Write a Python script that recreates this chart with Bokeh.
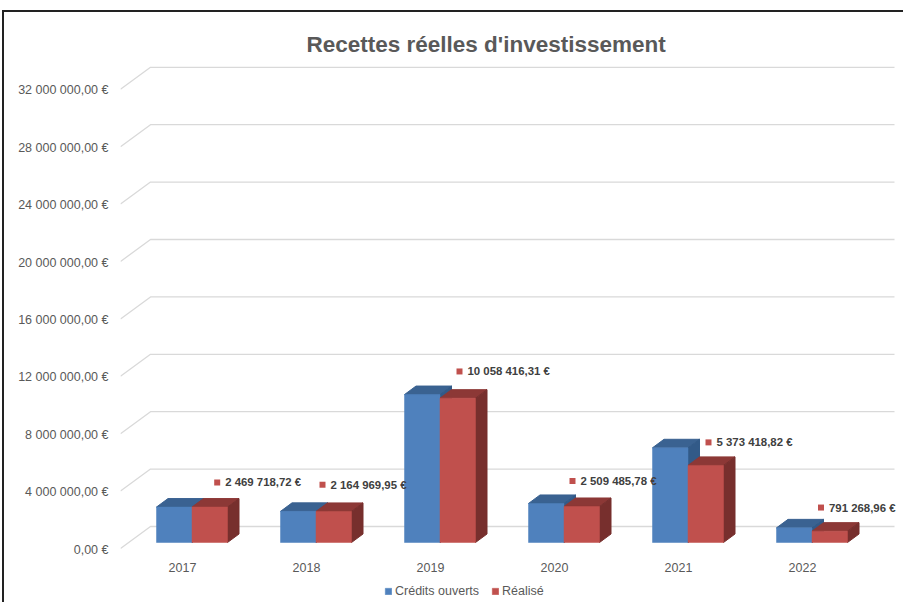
from bokeh.plotting import figure
from bokeh.embed import file_html
from bokeh.resources import INLINE
from bokeh.models import (ColumnDataSource, FixedTicker, Legend, LegendItem, Range1d, InlineStyleSheet)
from bokeh.core.properties import value

years = ["2017", "2018", "2019", "2020", "2021", "2022"]
credits_ouverts = [2470000, 2170000, 10310000, 2720000, 6600000, 1020000]
realise = [2469718.72, 2164969.95, 10058416.31, 2509485.78, 5373418.82, 791268.96]
realise_labels = ["2 469 718,72 €", "2 164 969,95 €", "10 058 416,31 €",
                  "2 509 485,78 €", "5 373 418,82 €", "791 268,96 €"]
y_ticks = [0, 4000000, 8000000, 12000000, 16000000, 20000000, 24000000, 28000000, 32000000]
y_tick_labels = ["0,00 €", "4 000 000,00 €", "8 000 000,00 €", "12 000 000,00 €", "16 000 000,00 €",
                 "20 000 000,00 €", "24 000 000,00 €", "28 000 000,00 €", "32 000 000,00 €"]

# layout scales (pixels per data unit)
PX_X = 124.0
PX_Y = 57.4 / 4000000
FONT = "Liberation Sans"
x0, x1 = -0.5, (903 - 182) / PX_X
top_px, bottom_px = 60, 602

p = figure(frame_width=783, frame_height=bottom_px - top_px, output_backend="svg", toolbar_location=None,
           x_range=Range1d(x0, x1),
           y_range=Range1d((542 - bottom_px) / PX_Y, (542 - top_px) / PX_Y),
           min_border_left=120, min_border_right=0, min_border_top=top_px, min_border_bottom=0,
           background_fill_color="white", border_fill_color="white", outline_line_color=None)
p.extra_y_ranges = {"labels": Range1d((549 - bottom_px) / PX_Y, (549 - top_px) / PX_Y)}
p.stylesheets = [InlineStyleSheet(css=":host::after{content:'';position:absolute;left:2px;top:10px;right:-20px;"
                                      "bottom:-20px;border-left:2px solid #222;border-top:2px solid #222;"
                                      "pointer-events:none;}")]

p.title.text = "Recettes réelles d'investissement"
p.title.text_font = FONT
p.title.text_font_size = "22.5px"
p.title.text_font_style = "bold"
p.title.text_color = "#595959"
p.title.align = "left"
p.title.offset = 186
p.title.standoff = 7

p.grid.visible = False
ax = p.yaxis[0]
ax.y_range_name = "labels"
ax.ticker = FixedTicker(ticks=y_ticks)
ax.major_label_overrides = {t: l for t, l in zip(y_ticks, y_tick_labels)}
ax.axis_line_color = None
ax.major_tick_line_color = None
ax.minor_tick_line_color = None
ax.major_label_standoff = 6
ax.major_label_text_font = FONT
ax.major_label_text_font_size = "12.5px"
ax.major_label_text_color = "#595959"

bx = p.xaxis[0]
bx.fixed_location = 0
bx.ticker = FixedTicker(ticks=list(range(len(years))))
bx.major_label_overrides = {i: y for i, y in enumerate(years)}
bx.axis_line_color = None
bx.major_tick_line_color = None
bx.minor_tick_line_color = None
bx.major_label_standoff = 14
bx.major_label_text_font = FONT
bx.major_label_text_font_size = "12.5px"
bx.major_label_text_color = "#595959"

# gridlines on the 3D wall
wall_front, wall_back = -6 / PX_Y, 16 / PX_Y
wall_dx = 30 / PX_X
wall_end = (894 - 182) / PX_X
p.multi_line([[x0, x0 + wall_dx, wall_end] for _ in y_ticks],
             [[t + wall_front, t + wall_back, t + wall_back] for t in y_ticks],
             line_color="#d9d9d9", line_width=1.3)

# 3D bars
bw = 35.5 / PX_X
shift = 9.5 / PX_X
dx, dy = 11.5 / PX_X, 8.5 / PX_Y


def bars(vals, left_off, front, top, side):
    idx = range(len(vals))
    ls = [i + shift + left_off for i in idx]
    rs = [l + bw for l in ls]
    p.patches([[l, r, r + dx, l + dx] for l, r in zip(ls, rs)],
              [[v, v, v + dy, v + dy] for v in vals],
              fill_color=top, line_color=top)
    p.patches([[r, r + dx, r + dx, r] for r in rs],
              [[0, dy, v + dy, v] for v in vals],
              fill_color=side, line_color=side)
    src = ColumnDataSource(dict(x=[(l + r) / 2 for l, r in zip(ls, rs)], top=vals))
    return p.vbar(x="x", top="top", bottom=0, width=bw, source=src,
                  fill_color=front, line_color=front, line_width=0.5)


r_blue = bars(credits_ouverts, -bw, "#4f81bd", "#3a6291", "#325a88")
r_red = bars(realise, 0, "#c0504d", "#8c3836", "#772f2d")

# data labels with their key
label_dx_px = [34.7, 16, 29, 18, 30, 18.5]
label_dy_px = [24.6, 26.7, 26.7, 25.5, 23, 23.6]
mx = [i + d / PX_X for i, d in enumerate(label_dx_px)]
my = [v + d / PX_Y for v, d in zip(realise, label_dy_px)]
p.scatter(mx, my, marker="square", size=6, fill_color="#c0504d", line_color=None)
p.text([m + 8 / PX_X for m in mx], my, text=realise_labels,
       text_font=value(FONT), text_font_size="11.4px", text_font_style="bold",
       text_color="#404040", text_align="left", text_baseline="middle")

legend = Legend(items=[LegendItem(label="Crédits ouverts", renderers=[r_blue]),
                       LegendItem(label="Réalisé", renderers=[r_red])],
                orientation="horizontal", location=(264, 4), padding=0, margin=0, spacing=12,
                glyph_width=8, glyph_height=8, label_standoff=3,
                label_text_font=FONT, label_text_font_size="12.5px", label_text_color="#595959",
                background_fill_alpha=0, border_line_color=None)
p.add_layout(legend, "center")

open("out.html", "w").write(file_html(p, INLINE))
